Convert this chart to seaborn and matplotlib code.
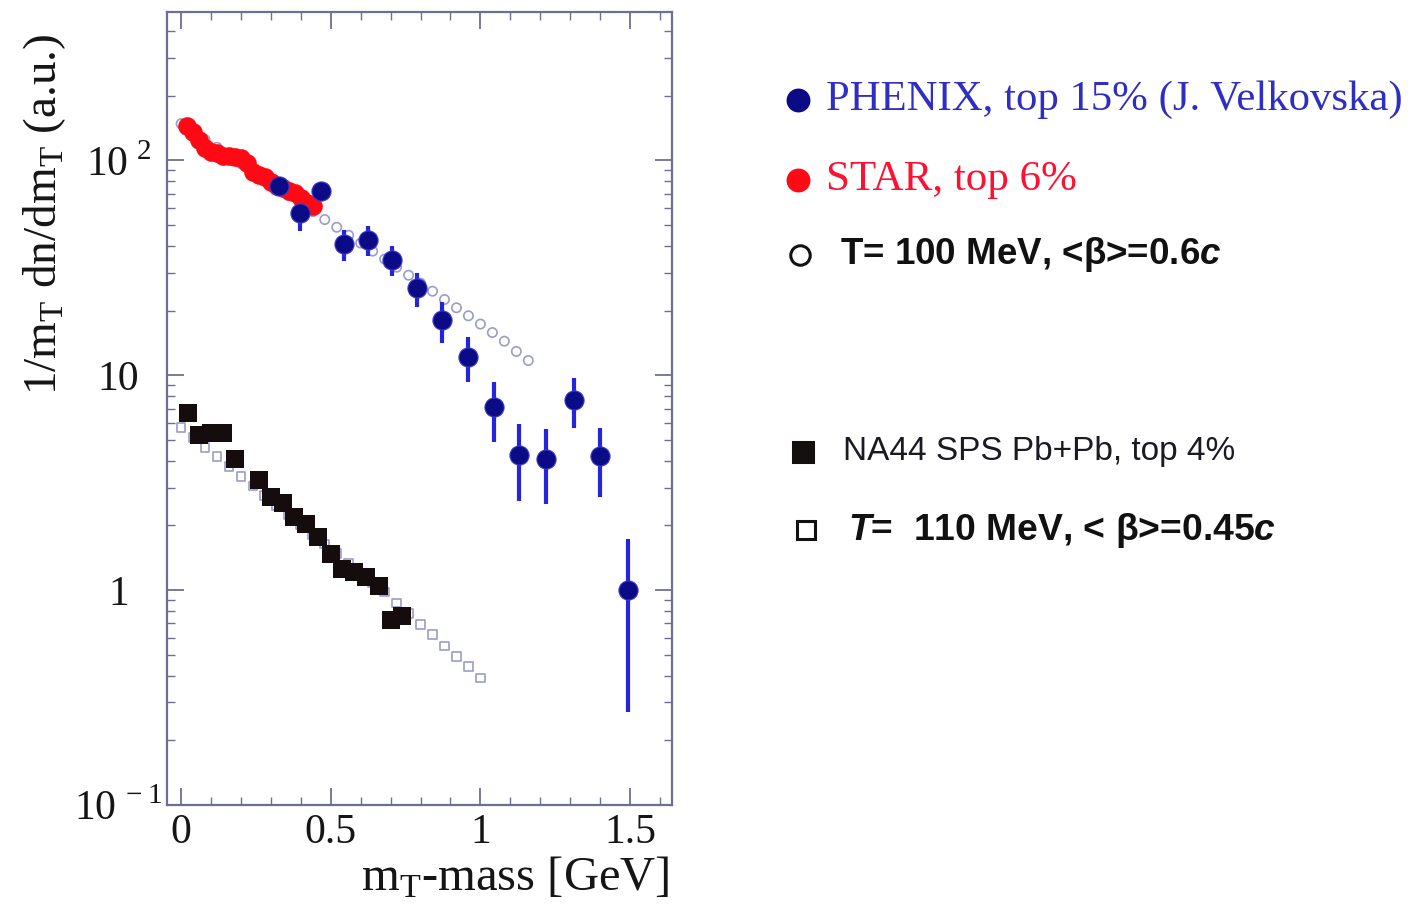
import numpy as np
import pandas as pd
import seaborn as sns
import matplotlib.pyplot as plt
from matplotlib.lines import Line2D
from matplotlib.ticker import FixedLocator, MultipleLocator, LogLocator, NullFormatter

# PHENIX, top 15%
phenix_x = [0.327, 0.397, 0.467, 0.543, 0.623, 0.703, 0.787, 0.870, 0.957,
            1.047, 1.130, 1.220, 1.313, 1.400, 1.493]
phenix_y = [76.0, 56.6, 71.8, 40.6, 42.5, 34.3, 25.4, 18.0, 12.2,
            7.1, 4.25, 4.06, 7.7, 4.2, 1.0]
phenix_err = [7.0, 9.5, 7.0, 6.7, 6.8, 5.5, 4.6, 3.9, 2.9,
              2.2, 1.65, 1.55, 2.0, 1.5, 0.73]

# STAR, top 6%
star_x = [0.02, 0.04, 0.06, 0.08, 0.10, 0.12, 0.14, 0.16, 0.18, 0.20, 0.22,
          0.24, 0.26, 0.28, 0.30, 0.32, 0.34, 0.36, 0.38, 0.40, 0.42, 0.44]
star_y = [144, 136, 124, 114, 109, 108, 105, 105, 104, 102, 96.8,
          87.9, 85, 84, 79, 75.7, 74, 71.8, 70.3, 66.6, 63.1, 61.1]

# blast wave T=100 MeV, <beta>=0.6c
t100_x = [0.00, 0.04, 0.08, 0.12, 0.16, 0.20, 0.24, 0.28, 0.32, 0.36,
          0.40, 0.44, 0.48, 0.52, 0.56, 0.60, 0.64, 0.68, 0.72, 0.76,
          0.80, 0.84, 0.88, 0.92, 0.96, 1.00, 1.04, 1.08, 1.12, 1.16]
t100_y = [148, 136, 125, 115, 105, 96.6, 88.7, 81.3, 74.6, 68.4,
          62.8, 57.7, 53.0, 48.8, 44.8, 41.2, 37.8, 34.7, 31.8, 29.2,
          26.8, 24.6, 22.5, 20.6, 18.9, 17.3, 15.8, 14.4, 12.9, 11.7]

# NA44 SPS Pb+Pb, top 4%
na44_x = [0.022, 0.061, 0.100, 0.139, 0.180, 0.261, 0.300, 0.339, 0.378,
          0.419, 0.458, 0.500, 0.539, 0.578, 0.617, 0.661, 0.700, 0.739]
na44_y = [6.64, 5.26, 5.36, 5.36, 4.06, 3.25, 2.72, 2.53, 2.19,
          2.04, 1.77, 1.48, 1.26, 1.22, 1.15, 1.04, 0.724, 0.757]

# T=110 MeV, <beta>=0.45c
t110_x = [0.00, 0.04, 0.08, 0.12, 0.16, 0.20, 0.24, 0.28, 0.32, 0.36,
          0.40, 0.44, 0.48, 0.52, 0.56, 0.60, 0.64, 0.68, 0.72, 0.76,
          0.80, 0.84, 0.88, 0.92, 0.96, 1.00]
t110_y = [5.69, 5.13, 4.62, 4.17, 3.76, 3.39, 3.05, 2.75, 2.48, 2.24,
          2.02, 1.82, 1.64, 1.48, 1.33, 1.20, 1.08, 0.98, 0.87, 0.78,
          0.69, 0.62, 0.55, 0.49, 0.44, 0.39]

sns.set_theme(style='ticks')
plt.rcParams['font.family'] = ['Liberation Serif', 'DejaVu Serif']
plt.rcParams['mathtext.fontset'] = 'custom'
plt.rcParams['mathtext.rm'] = 'Liberation Serif'
plt.rcParams['mathtext.it'] = 'Liberation Sans:italic:bold'
plt.rcParams['mathtext.bf'] = 'Liberation Sans:bold'

W, H = 1410, 911
frame_col = '#6e6e92'
model_col = '#9c9cc8'
blue = '#0b0b86'
blue_bar = '#2424dc'
red = '#ff0a14'


def px(x, y):
    return x / W, 1 - y / H


fig = plt.figure(figsize=(W / 100, H / 100), dpi=100)
ax = fig.add_axes([167 / W, 1 - 805 / H, 505 / W, 793 / H])

# models first, data on top
sns.scatterplot(x=t100_x, y=t100_y, marker='o', s=45, facecolor='none',
                edgecolor=model_col, linewidth=1.2, ax=ax, zorder=2)
sns.scatterplot(x=t110_x, y=t110_y, marker='s', s=40, facecolor='none',
                edgecolor=model_col, linewidth=1.2, ax=ax, zorder=2)

ax.errorbar(phenix_x, phenix_y, yerr=phenix_err, fmt='none', ecolor=blue_bar,
            elinewidth=3, capsize=0, zorder=3)
sns.scatterplot(x=star_x, y=star_y, marker='o', s=180, color=red,
                edgecolor=red, linewidth=0, ax=ax, zorder=4)
sns.scatterplot(x=phenix_x, y=phenix_y, marker='o', s=190, color=blue,
                edgecolor='#3a3ad0', linewidth=0.8, ax=ax, zorder=5)
sns.scatterplot(x=na44_x, y=na44_y, marker='s', s=150, color='#150d0d',
                edgecolor='#150d0d', linewidth=0, ax=ax, zorder=4)

ax.set_yscale('log')
ax.set_ylim(0.1, 490)
ax.set_xlim(-0.047, 1.64)

ax.xaxis.set_major_locator(FixedLocator([0, 0.5, 1, 1.5]))
ax.xaxis.set_minor_locator(MultipleLocator(0.1))
ax.set_xticklabels(['0', '0.5', '1', '1.5'])
ax.yaxis.set_major_locator(FixedLocator([0.1, 1, 10, 100]))
ax.yaxis.set_minor_locator(LogLocator(base=10, subs=np.arange(2, 10)))
ax.yaxis.set_minor_formatter(NullFormatter())
ax.set_yticklabels([r'$10^{\,-1}$', '1', '10', r'$10^{\ 2}$'])

ax.tick_params(which='both', direction='in', top=True, right=True,
               color=frame_col, labelsize=30, labelcolor='#151515')
ax.tick_params(which='major', length=12, width=1.3)
ax.tick_params(which='minor', length=6, width=1.0)
ax.tick_params(axis='x', pad=6)
ax.tick_params(axis='y', pad=35)
for lab in ax.get_yticklabels():
    lab.set_horizontalalignment('center')

for sp in ax.spines.values():
    sp.set_color(frame_col)
    sp.set_linewidth(1.6)

ax.set_xlabel(r'm$_\mathrm{T}$-mass [GeV]', fontsize=35, color='#151515')
ax.xaxis.set_label_coords(0.996, -0.062)
ax.xaxis.label.set_horizontalalignment('right')
ax.set_ylabel(r'1/m$_\mathrm{T}$ dn/dm$_\mathrm{T}$ (a.u.)', fontsize=34,
              color='#151515')
ax.yaxis.set_label_coords(-0.242, 0.745)
ax.yaxis.label.set_verticalalignment('center')

# legend, drawn beside the frame
sans = ['Liberation Sans']
keys = [
    (798, 100, 'o', blue, blue, 15),
    (798, 180, 'o', red, red, 15),
    (800, 255, 'o', 'none', '#111111', 14),
    (803, 452, 's', '#151010', '#151010', 14),
    (806, 530, 's', 'none', '#111111', 13),
]
for kx, ky, m, fc, ec, ms in keys:
    fig.add_artist(Line2D([kx / W], [1 - ky / H], transform=fig.transFigure,
                          marker=m, markersize=ms, markerfacecolor=fc,
                          markeredgecolor=ec, markeredgewidth=2.2,
                          linestyle=''))

fig.text(*px(826, 100), 'PHENIX, top 15% (J. Velkovska)', fontsize=30.8,
         color='#2e2ec4', va='center', ha='left')
fig.text(*px(826, 180), 'STAR, top 6%', fontsize=31, color='#ff1030',
         va='center', ha='left')
fig.text(*px(840, 255), r'T= 100 MeV, <β>=0.6$c$', fontsize=26.5,
         family=sans, weight='bold', color='#111111', va='center', ha='left')
fig.text(*px(843, 452), 'NA44 SPS Pb+Pb, top 4%', fontsize=24,
         family=sans, color='#1a1a22', va='center', ha='left')
fig.text(*px(848, 530), r'$T$=  110 MeV, < β>=0.45$c$', fontsize=26.8,
         family=sans, weight='bold', color='#111111', va='center', ha='left')

fig.savefig('out.png', dpi=100)
